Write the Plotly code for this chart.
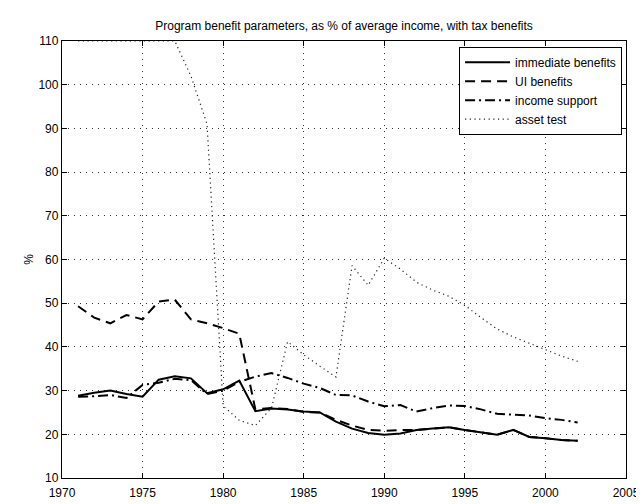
import plotly.graph_objects as go

years = list(range(1971, 2003))

immediate_benefits = [28.8, 29.5, 30.0, 29.2, 28.6, 32.5, 33.3, 32.8, 29.4, 30.3,
                      32.3, 25.3, 25.9, 25.7, 25.2, 25.0, 22.9, 21.3, 20.3, 19.9,
                      20.2, 21.0, 21.3, 21.6, 21.0, 20.4, 19.9, 21.0, 19.4, 19.1,
                      18.7, 18.5]

ui_benefits = [49.3, 46.7, 45.4, 47.3, 46.3, 50.4, 50.8, 46.3, 45.4, 44.3,
               43.0, 25.7, 26.0, 25.8, 25.1, 25.0, 23.3, 22.0, 21.0, 20.8,
               21.0, 21.0, 21.3, 21.6, 21.0, 20.4, 19.9, 21.0, 19.4, 19.1,
               18.7, 18.5]

income_support = [28.6, 28.7, 29.0, 28.3, 31.3, 31.8, 32.7, 32.4, 29.2, 30.0,
                  32.0, 33.2, 34.0, 32.9, 31.6, 30.6, 29.0, 28.9, 27.5, 26.4,
                  26.7, 25.2, 26.0, 26.6, 26.5, 25.7, 24.7, 24.5, 24.3, 23.7,
                  23.3, 22.7]

asset_test = [110, 110, 110, 110, 110, 110, 110, 102, 91, 26.5,
              23.2, 22.0, 26.0, 41.2, 38.2, 35.6, 33.1, 58.6, 54.1, 60.3,
              57.8, 54.8, 53.0, 51.6, 49.5, 46.7, 44.1, 42.3, 40.8, 39.3,
              37.9, 36.7]

x_ticks = [1970, 1975, 1980, 1985, 1990, 1995, 2000, 2005]
y_ticks = [10, 20, 30, 40, 50, 60, 70, 80, 90, 100, 110]

title_text = "Program benefit parameters, as % of average income, with tax benefits"

FONT = "Liberation Sans, Arial, Helvetica, sans-serif"

fig = go.Figure()
fig.add_trace(go.Scatter(x=years, y=immediate_benefits, mode="lines",
                         name="immediate benefits",
                         line=dict(color="black", width=2, dash="solid")))
fig.add_trace(go.Scatter(x=years, y=ui_benefits, mode="lines",
                         name="UI benefits",
                         line=dict(color="black", width=2, dash="10px,6px")))
fig.add_trace(go.Scatter(x=years, y=income_support, mode="lines",
                         name="income support",
                         line=dict(color="black", width=2, dash="10px,4px,2px,4px")))
fig.add_trace(go.Scatter(x=years, y=asset_test, mode="lines",
                         name="asset test",
                         line=dict(color="#222222", width=1.2, dash="1.2px,3.5px")))

axis_common = dict(
    showline=True, linecolor="black", linewidth=1.3, mirror="ticks",
    ticks="inside", ticklen=5, tickcolor="black", tickwidth=1,
    showgrid=True, gridcolor="#333333", gridwidth=1, griddash="1px,5px",
    zeroline=False,
    tickfont=dict(family=FONT, size=12, color="black"),
)

fig.update_xaxes(range=[1970, 2005], tickmode="array", tickvals=x_ticks,
                 ticktext=[str(v) for v in x_ticks], ticklabelstandoff=3,
                 **axis_common)
fig.update_yaxes(range=[10, 110], tickmode="array", tickvals=y_ticks,
                 ticktext=[str(v) for v in y_ticks],
                 title=dict(text="%", font=dict(family=FONT, size=12, color="black"),
                            standoff=2),
                 **axis_common)

fig.update_layout(
    width=644, height=504,
    margin=dict(l=54, r=16, t=33, b=19, pad=0),
    paper_bgcolor="white", plot_bgcolor="white",
    title=dict(text=title_text, x=0.5, xanchor="center", xref="paper",
               y=1 - 18 / 504, yanchor="middle", yref="container",
               font=dict(family=FONT, size=12, color="black")),
    font=dict(family=FONT, size=12, color="black"),
    legend=dict(x=0.993, xanchor="right", y=0.987, yanchor="top",
                bgcolor="white", bordercolor="black", borderwidth=1,
                font=dict(family=FONT, size=12, color="black"),
                tracegroupgap=0, itemwidth=45),
    showlegend=True,
)

fig.write_html("out.html")
